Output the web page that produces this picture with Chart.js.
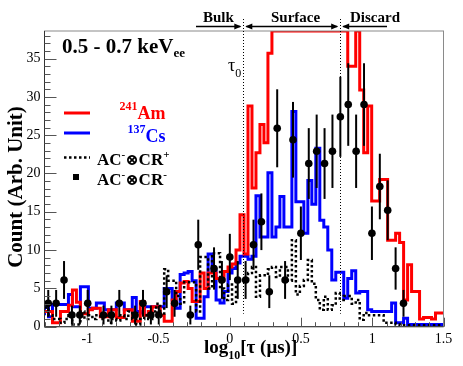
<!DOCTYPE html>
<html><head><meta charset="utf-8">
<script src="https://cdn.jsdelivr.net/npm/chart.js@4.4.1/dist/chart.umd.min.js"></script>
<style>html,body{margin:0;padding:0;background:#fff}#wrap{width:463px;height:366px;position:relative}</style>
</head><body><div id="wrap"><canvas id="c" width="463" height="366"></canvas></div>
<script>
// ---- axis ranges / ticks ----
const xMin = -1.3, xMax = 1.5, yMax = 38.6;
const xTickLabels = [-1, -0.5, 0, 0.5, 1, 1.5];
const yTickLabels = [0, 5, 10, 15, 20, 25, 30, 35];
// ---- histogram binning (log10 tau) ----
const histStart = -1.3, histBinWidth = 0.028;
// 241Am (red) – bins at the top are drawn at the frame top (overflow)
const am241 = [
 1.8,2.0,2.0,0.5,0.5,2.0,2.0,2.8,4.8,3.2,
 1.7,1.7,2.2,2.4,2.4,1.3,1.3,2.2,2.2,1.2,
 1.2,2.2,2.2,0.7,0.7,3.3,1.5,2.0,2.6,2.6,
 1.5,0.7,0.7,3.5,4.6,5.7,5.9,5.0,3.3,3.3,
 7.0,5.0,7.0,7.0,6.3,6.1,7.2,7.8,8.2,10.0,
 14.6,9.5,28.8,18.1,22.7,26.4,24.0,35.7,38.6,38.6,
 38.6,38.6,38.6,38.6,38.6,38.6,38.6,38.6,38.6,38.6,
 38.6,38.6,38.6,38.6,38.6,38.6,38.6,34.0,34.0,38.6,
 30.9,22.7,28.8,16.4,16.4,19.2,19.2,11.3,11.3,12.2,
 11.0,3.5,8.1,4.6,4.6,1.0,1.2,1.2,1.0,1.8
];
// 137Cs (blue)
const cs137 = [
 1.5,2.5,1.3,2.9,2.9,2.9,2.9,4.2,2.6,2.6,
 5.2,5.2,2.4,2.4,3.1,3.1,2.2,2.2,2.2,3.1,
 3.1,2.2,2.2,3.8,2.0,1.8,2.6,2.6,2.6,2.6,
 2.6,5.0,5.0,3.5,2.4,6.8,7.0,7.2,6.0,1.1,
 1.1,3.9,9.5,7.3,3.5,3.1,4.6,7.0,7.6,8.3,
 9.2,9.2,8.8,9.2,17.1,11.7,11.7,20.1,11.7,13.0,
 17.0,13.0,13.0,28.1,16.3,16.3,12.2,19.1,16.0,23.3,
 13.9,13.0,10.0,6.1,7.1,7.1,3.7,6.3,7.3,4.4,
 4.6,4.6,2.2,2.0,2.0,2.0,2.0,2.0,3.1,0.5,
 0.5,1.1,0.3,0.3,0.3,0.3,0.3,0.3,0.3,0.3
];
// AC- (x) CR+ (black dotted)
const acCRplus = [
 2.5,2.5,1.5,1.0,1.0,0.5,1.0,1.5,0.3,0.3,
 2.0,1.0,1.5,1.0,1.5,1.0,1.5,0.5,1.0,0.8,
 1.5,1.0,2.0,1.0,0.3,1.0,1.5,1.0,2.0,3.0,
 1.5,7.5,6.0,6.0,4.0,3.0,5.8,5.8,5.8,2.0,
 9.1,9.1,5.0,9.6,9.6,5.0,3.5,5.5,3.0,6.1,
 6.1,6.1,7.0,7.8,3.9,6.7,6.7,7.5,7.8,6.5,
 7.8,7.8,6.0,11.3,4.2,5.3,6.1,8.7,5.6,3.5,
 2.2,3.9,2.2,2.8,4.4,3.5,4.0,4.0,3.0,3.5,
 0.9,1.8,1.5,1.5,1.5,1.5,0.5,0.5,0.5,0.3,
 0.2,0.2,0.2,0.2,0.2,0.2,0.2,0.2,0.2,0.2
];
// AC- (x) CR- (black points with error bars)
const ptStart = -1.2737, ptStep = 0.0554;
const acCRminus = [
 3.05,3.05,6.1,1.52,1.52,3.05,null,1.52,1.52,3.05,
 null,1.52,3.05,1.52,1.52,4.57,3.05,null,1.52,10.7,
 null,7.6,6.1,9.1,6.1,6.1,10.7,13.7,4.57,25.9,
 6.1,24.4,12.2,21.3,22.9,21.3,22.9,27.4,29.0,22.9,
 29.0,12.2,18.3,15.2,7.6,3.05,null,null,null,null
];
const acCRminusErr = [
 1.75,1.75,2.47,1.23,1.23,1.75,null,1.23,1.23,1.75,
 null,1.23,1.75,1.23,1.23,2.14,1.75,null,1.23,3.27,
 null,2.76,2.47,3.02,2.47,2.47,3.27,3.70,2.14,5.09,
 2.47,4.94,3.49,4.62,4.79,4.62,4.79,5.23,5.39,4.79,
 5.39,3.49,4.28,3.90,2.76,1.75,null,null,null,null
];
// region boundaries (tau0 and surface/discard cut), log10 tau
const regionCuts = [0.095, 0.775];
const regionLineBottom = 1.7;

function histPoints(vals) {
  const pts = vals.map((v, i) => ({ x: histStart + i * histBinWidth, y: Math.min(v, yMax) }));
  pts.push({ x: histStart + vals.length * histBinWidth, y: Math.min(vals[vals.length - 1], yMax) });
  return pts;
}
const pointData = [];
acCRminus.forEach((v, j) => { if (v !== null) pointData.push({ x: ptStart + j * ptStep, y: v, e: acCRminusErr[j] }); });

const SERIF = '"Liberation Serif","DejaVu Serif",serif';

function rich(ctx, x, y, parts, color) {
  ctx.fillStyle = color;
  ctx.textBaseline = 'alphabetic';
  ctx.textAlign = 'left';
  for (const p of parts) {
    ctx.font = (p.bold === false ? '' : 'bold ') + p.size + 'px ' + SERIF;
    ctx.fillText(p.t, x, y + (p.dy || 0));
    x += ctx.measureText(p.t).width + (p.gap || 0);
  }
  return x;
}
function arrowHead(ctx, x, y, dir) {
  ctx.beginPath();
  ctx.moveTo(x, y);
  ctx.lineTo(x - dir * 7, y - 3);
  ctx.lineTo(x - dir * 7, y + 3);
  ctx.closePath();
  ctx.fill();
}

const decor = {
  id: 'decor',
  afterDatasetsDraw(chart) {
    const ctx = chart.ctx, xs = chart.scales.x, ys = chart.scales.y;
    ctx.save();
    ctx.strokeStyle = '#000';
    ctx.lineWidth = 2;
    for (const p of pointData) {
      const px = xs.getPixelForValue(p.x);
      ctx.beginPath();
      ctx.moveTo(px, ys.getPixelForValue(Math.max(p.y - p.e, 0)));
      ctx.lineTo(px, ys.getPixelForValue(p.y + p.e));
      ctx.stroke();
    }
    ctx.restore();
  },
  afterDraw(chart) {
    const ctx = chart.ctx, xs = chart.scales.x, ys = chart.scales.y, ca = chart.chartArea;
    ctx.save();
    // frame
    ctx.lineWidth = 1;
    ctx.strokeStyle = '#8a8a8a';
    ctx.strokeRect(ca.left, ca.top, ca.right - ca.left, ca.bottom - ca.top);
    ctx.strokeStyle = '#333';
    ctx.beginPath();
    ctx.moveTo(ca.left, ca.top); ctx.lineTo(ca.left, ca.bottom); ctx.lineTo(ca.right, ca.bottom);
    ctx.stroke();
    // ticks (inward)
    ctx.strokeStyle = '#555';
    for (let k = -13; k <= 15; k++) {
      const v = k / 10, px = Math.round(xs.getPixelForValue(v)) + 0.5;
      const len = (k % 5 === 0) ? 9 : 4.5;
      ctx.beginPath(); ctx.moveTo(px, ca.bottom); ctx.lineTo(px, ca.bottom - len); ctx.stroke();
    }
    for (let v = 0; v <= 38; v++) {
      const py = Math.round(ys.getPixelForValue(v)) + 0.5;
      const len = (v % 5 === 0) ? 12 : 6;
      ctx.beginPath(); ctx.moveTo(ca.left, py); ctx.lineTo(ca.left + len, py); ctx.stroke();
    }
    // region dotted lines
    ctx.strokeStyle = '#000';
    ctx.lineWidth = 1;
    ctx.setLineDash([1, 2]);
    for (const c of regionCuts) {
      const px = Math.round(xs.getPixelForValue(c)) + 0.5;
      ctx.beginPath(); ctx.moveTo(px, 19); ctx.lineTo(px, ys.getPixelForValue(regionLineBottom)); ctx.stroke();
    }
    ctx.setLineDash([]);
    // top arrows
    const xa = xs.getPixelForValue(regionCuts[0]), xb = xs.getPixelForValue(regionCuts[1]);
    const ay = 26.5;
    ctx.fillStyle = '#000';
    ctx.lineWidth = 1.3;
    ctx.beginPath(); ctx.moveTo(196, ay); ctx.lineTo(xa - 3, ay); ctx.stroke();
    arrowHead(ctx, xa - 2, ay, 1);
    ctx.beginPath(); ctx.moveTo(xa + 3, ay); ctx.lineTo(xb - 3, ay); ctx.stroke();
    arrowHead(ctx, xa + 2, ay, -1); arrowHead(ctx, xb - 2, ay, 1);
    ctx.beginPath(); ctx.moveTo(xb + 3, ay); ctx.lineTo(387, ay); ctx.stroke();
    arrowHead(ctx, xb + 2, ay, -1);
    rich(ctx, 203, 21.5, [{ t: 'Bulk', size: 15 }], '#000');
    rich(ctx, 271, 21.5, [{ t: 'Surface', size: 15 }], '#000');
    rich(ctx, 350, 21.5, [{ t: 'Discard', size: 15 }], '#000');
    // tau0
    rich(ctx, 228, 71, [{ t: 'τ', size: 18, bold: false }, { t: '0', size: 12, bold: false, dy: 6 }], '#000');
    // energy label
    rich(ctx, 62, 53, [{ t: '0.5 - 0.7 keV', size: 21 }, { t: 'ee', size: 13, dy: 4 }], '#000');
    // legend
    ctx.lineWidth = 3;
    ctx.strokeStyle = '#ff0000';
    ctx.beginPath(); ctx.moveTo(64, 113); ctx.lineTo(90, 113); ctx.stroke();
    ctx.strokeStyle = '#0000ff';
    ctx.beginPath(); ctx.moveTo(64, 133); ctx.lineTo(90, 133); ctx.stroke();
    ctx.strokeStyle = '#000';
    ctx.lineWidth = 2.5;
    ctx.setLineDash([2.5, 2.5]);
    ctx.beginPath(); ctx.moveTo(64, 157.5); ctx.lineTo(90, 157.5); ctx.stroke();
    ctx.setLineDash([]);
    ctx.fillStyle = '#000';
    ctx.fillRect(73, 174, 6, 6);
    rich(ctx, 119.5, 109.5, [{ t: '241', size: 12 }, { t: 'Am', size: 18, dy: 9 }], '#ff0000');
    rich(ctx, 127.5, 132.5, [{ t: '137', size: 12 }, { t: 'Cs', size: 18, dy: 9 }], '#0000ff');
    rich(ctx, 97, 164.5, [{ t: 'AC', size: 17 }, { t: '-', size: 11, dy: -7 }, { t: '⊗', size: 16 }, { t: 'CR', size: 17 }, { t: '+', size: 11, dy: -7 }], '#000');
    rich(ctx, 97, 184.5, [{ t: 'AC', size: 17 }, { t: '-', size: 11, dy: -7 }, { t: '⊗', size: 16 }, { t: 'CR', size: 17 }, { t: '-', size: 11, dy: -7 }], '#000');
    // axis titles
    rich(ctx, 204, 353, [{ t: 'log', size: 19 }, { t: '10', size: 12, dy: 6 }, { t: '[τ (μs)]', size: 19 }], '#000');
    ctx.translate(17, 187);
    ctx.rotate(-Math.PI / 2);
    ctx.font = 'bold 21px ' + SERIF;
    ctx.textAlign = 'center';
    ctx.textBaseline = 'middle';
    ctx.fillText('Count (Arb. Unit)', 0, 0);
    ctx.restore();
  }
};

new Chart(document.getElementById('c'), {
  type: 'line',
  data: {
    datasets: [
      { label: 'AC-CR-', data: pointData, showLine: false, pointRadius: 3.8, pointBackgroundColor: '#000', pointBorderWidth: 0, pointStyle: 'circle' },
      { label: 'AC-CR+', data: histPoints(acCRplus), stepped: 'after', borderColor: '#000', borderWidth: 2.5, borderDash: [2.5, 2.5], pointRadius: 0, fill: false },
      { label: '241Am', data: histPoints(am241), stepped: 'after', borderColor: '#ff0000', borderWidth: 3, pointRadius: 0, fill: false },
      { label: '137Cs', data: histPoints(cs137), stepped: 'after', borderColor: '#0000ff', borderWidth: 3, pointRadius: 0, fill: false }
    ]
  },
  options: {
    responsive: false, animation: false, devicePixelRatio: 1,
    layout: { padding: { left: 0, right: 19.5, top: 31, bottom: 0 } },
    plugins: { legend: { display: false }, tooltip: { enabled: false } },
    scales: {
      x: {
        type: 'linear', min: xMin, max: xMax,
        afterBuildTicks: s => { s.ticks = xTickLabels.map(v => ({ value: v })); },
        afterFit: s => { s.height = 39.3; },
        grid: { display: false, drawTicks: false }, border: { display: false },
        ticks: { autoSkip: false, maxRotation: 0, padding: 4, color: '#000', font: { family: SERIF, size: 14 }, callback: v => String(v) }
      },
      y: {
        type: 'linear', min: 0, max: yMax,
        afterBuildTicks: s => { s.ticks = yTickLabels.map(v => ({ value: v })); },
        afterFit: s => { s.width = 44.5; },
        grid: { display: false, drawTicks: false }, border: { display: false },
        ticks: { autoSkip: false, padding: 4, color: '#000', font: { family: SERIF, size: 14 }, callback: v => String(v) }
      }
    }
  },
  plugins: [decor]
});
</script></body></html>
